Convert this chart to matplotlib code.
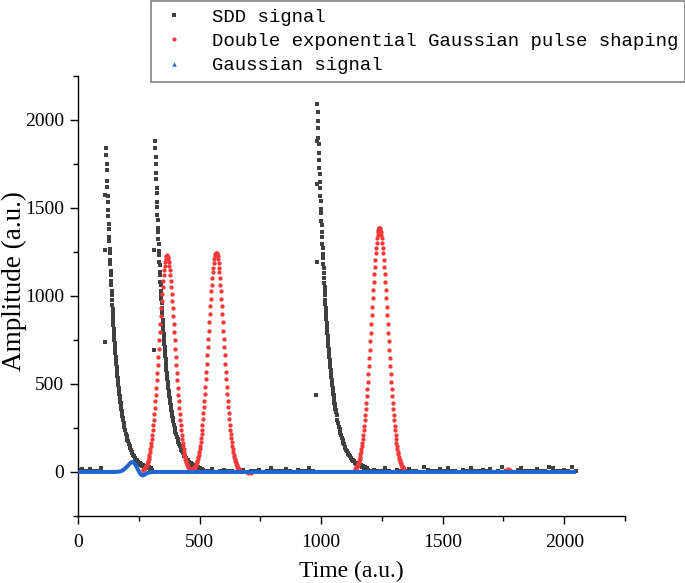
import numpy as np
import matplotlib
matplotlib.use("Agg")
import matplotlib.pyplot as plt
from matplotlib.lines import Line2D
from matplotlib.ticker import MultipleLocator
from matplotlib.font_manager import FontProperties

# ---------------- data ----------------
# SDD signal: three exponential pulses, sampled once per time unit near the peak
sdd_p1_time = np.concatenate([np.arange(116, 186), np.arange(188, 261, 3), np.arange(264, 305, 4)])
sdd_p1_amp = [1840, 1800, 1745, 1712, 1650, 1618, 1565, 1534, 1486, 1455,
              1410, 1380, 1336, 1309, 1268, 1242, 1203, 1178, 1140, 1117,
              1082, 1060, 1027, 1006, 975,
              950, 925, 903, 879, 857, 836, 813, 791, 768, 750,
              731, 714, 694, 676, 655, 640, 624, 610, 593, 578,
              560, 547, 534, 521, 506, 493, 478, 467, 456, 445,
              432, 420, 408, 399, 389, 380, 369, 358, 348, 340,
              332, 325, 315, 306, 297,
              278, 253, 238, 216, 203, 184, 174, 157, 149, 134,
              127, 114, 108, 97, 93, 82, 79, 70, 68, 59, 58, 50, 49, 42, 44,
              36, 38, 30, 33, 25, 28, 20, 26, 15, 22, 12]

sdd_p2_time = np.concatenate([np.arange(317, 391), np.arange(392, 471, 3), np.arange(474, 515, 4)])
sdd_p2_amp = [1880, 1838, 1785, 1750, 1697, 1662, 1612, 1582, 1533, 1505,
              1458, 1432, 1387, 1362, 1320, 1296, 1255, 1233, 1193, 1173,
              1135, 1116, 1080, 1062, 1028,
              1003, 980, 957, 932, 910, 888, 865, 845, 826, 804,
              785, 764, 746, 727, 711, 691, 675, 656, 641, 625,
              612, 594, 580, 564, 551, 537, 527, 510, 498, 485,
              474, 462, 454, 440, 429, 417, 408, 398, 391, 378,
              369, 359, 351, 342, 337, 325, 317, 309, 302,
              290, 266, 250, 228, 215, 196, 186, 170, 160, 146,
              138, 126, 119, 108, 103, 92, 89, 79, 77, 68,
              66, 59, 57, 50, 49, 43, 42,
              35, 38, 30, 32, 24, 27, 18, 22, 14, 17, 10]

sdd_p3_time = np.concatenate([np.arange(985, 1061), np.arange(1061, 1149, 3), np.arange(1152, 1193, 4)])
sdd_p3_amp = [2090, 2045, 1990, 1950, 1898, 1860, 1808, 1773, 1725, 1691,
              1645, 1613, 1568, 1538, 1495, 1467, 1425, 1399, 1359, 1334,
              1296, 1272, 1236, 1213, 1179, 1155,
              1128, 1101, 1074, 1050, 1026, 1003, 978, 955, 929, 910,
              889, 870, 848, 828, 805, 790, 771, 754, 735, 717,
              697, 684, 668, 653, 636, 620, 604, 593, 580, 568,
              553, 539, 524, 514, 503, 492, 479, 466, 454, 445,
              436, 427, 415, 404, 393, 385, 378, 371, 360, 350,
              340, 322, 295, 279, 255, 242, 221, 210, 192, 182,
              166, 158, 144, 138, 125, 120, 108, 104, 94, 91,
              81, 79, 70, 69, 61, 60, 53, 52, 46, 46,
              40, 42, 34, 37, 28, 31, 22, 26, 16, 20, 12]

sdd_rise_time = [111, 112, 113, 313, 314, 981, 982, 983, 984]
sdd_rise_amp = [738, 1258, 1570, 690, 1258, 435, 1192, 1636, 1880]

sdd_base_time = np.concatenate([np.arange(0, 97, 16), np.arange(520, 969, 16), np.arange(1200, 2049, 16)])
sdd_base_amp = [12, 18, 6, 14, 4, 8, 20,
                8, 4, 14, 2, 6, 10, 3, 8, 0, 5, 12, 2, 7, 4, 10, 2, 6, 22, 4, 8,
                3, 18, 5, 2, 9, 4, 6, 20, 3,
                6, 12, 3, 8, 22, 5, 2, 10, 4, 7, 15, 3, 8, 2, 26, 9, 4, 6, 18, 3,
                20, 5, 8, 2, 12, 4, 24, 6, 3, 9, 5, 14, 2, 8, 28, 4, 6, 2, 10, 22,
                5, 3, 8, 18, 4, 7, 26, 25, 6, 3, 9, 4, 27, 6]

# Double exponential Gaussian pulse shaping output
shp_p1_time = np.arange(266, 467, 2)
shp_p1_amp = [9, 11, 14, 16, 20, 24, 28, 33, 39, 46, 54, 63, 73, 85, 98, 112, 129, 146, 166, 188,
              212, 237, 266, 296, 328, 363, 400, 438, 478, 520, 563, 608, 653, 700, 747, 792, 839,
              884, 929, 972, 1012, 1050, 1085, 1118, 1146, 1171, 1192, 1209, 1220, 1228, 1230,
              1228, 1220, 1209, 1192, 1171, 1146, 1118, 1085, 1050, 1012, 972, 929, 884, 839, 792,
              747, 700, 653, 608, 563, 520, 478, 438, 400, 363, 328, 296, 266, 237, 212, 188, 166,
              146, 129, 112, 98, 85, 73, 63, 54, 46, 39, 33, 28, 24, 20, 16, 14, 11, 9]
shp_p2_time = np.arange(468, 669, 2)
shp_p2_amp = [9, 11, 14, 16, 20, 24, 28, 34, 40, 47, 55, 64, 74, 86, 99, 114, 131, 148, 168, 190,
              214, 240, 269, 300, 332, 367, 405, 443, 484, 527, 570, 615, 661, 708, 756, 802, 849,
              895, 940, 984, 1025, 1063, 1098, 1132, 1160, 1185, 1206, 1224, 1235, 1243, 1245,
              1243, 1235, 1224, 1206, 1185, 1160, 1132, 1098, 1063, 1025, 984, 940, 895, 849, 802,
              756, 708, 661, 615, 570, 527, 484, 443, 405, 367, 332, 300, 269, 240, 214, 190, 168,
              148, 131, 114, 99, 86, 74, 64, 55, 47, 40, 34, 28, 24, 20, 16, 14, 11, 9]
shp_p3_time = np.arange(1140, 1341, 2)
shp_p3_amp = [18, 22, 26, 30, 36, 42, 49, 57, 66, 76, 87, 100, 114, 130, 147, 166, 187, 211, 236,
              263, 292, 323, 357, 392, 430, 470, 511, 555, 600, 646, 693, 742, 791, 840, 889, 938,
              987, 1034, 1080, 1123, 1165, 1204, 1240, 1272, 1301, 1326, 1347, 1364, 1375, 1383,
              1385,
              1383, 1375, 1364, 1347, 1326, 1301, 1272, 1240, 1204, 1165, 1123, 1080, 1034, 987,
              938, 889, 840, 791, 742, 693, 646, 600, 555, 511, 470, 430, 392, 357, 323, 292, 263,
              236, 211, 187, 166, 147, 130, 114, 100, 87, 76, 66, 57, 49, 42, 36, 30, 26, 22, 18]
shp_base_time = [700, 712, 1760, 1768, 1776]
shp_base_amp = [-8, -8, 12, 14, 10]

# Gaussian signal
gau_time = [0, 150, 170, 180, 190, 200, 210, 218, 225, 232, 240, 247, 254, 260, 266, 272,
            280, 290, 300, 320, 2048]
gau_amp = [0, 0, 2, 6, 15, 28, 43, 54, 57, 50, 32, 12, -6, -16, -20, -17, -10, -4, -1, 0, 0]

legend_labels = ["SDD signal", "Double exponential Gaussian pulse shaping", "Gaussian signal"]
x_label = "Time (a.u.)"
y_label = "Amplitude (a.u.)"

# ---------------- styling ----------------
GRAY = "#404040"
RED = "#f23a3a"
BLUE = "#1f66d1"
serif = "Liberation Serif"

W, H = 685, 583
fig = plt.figure(figsize=(W / 100, H / 100), dpi=100)
ax = fig.add_axes([78 / W, 1 - 516 / H, (625 - 78) / W, (516 - 75.5) / H])

sdd_kw = dict(ls="none", marker="s", ms=2.7, mew=0, color=GRAY, zorder=2)
for t, v in [(sdd_base_time, sdd_base_amp), (sdd_p1_time, sdd_p1_amp), (sdd_p2_time, sdd_p2_amp),
             (sdd_p3_time, sdd_p3_amp), (sdd_rise_time, sdd_rise_amp)]:
    ax.plot(t, v, **sdd_kw)

shp_kw = dict(ls="none", marker="o", ms=3.1, mew=0, color=RED, zorder=3)
for t, v in [(shp_base_time, shp_base_amp), (shp_p1_time, shp_p1_amp), (shp_p2_time, shp_p2_amp),
             (shp_p3_time, shp_p3_amp)]:
    ax.plot(t, v, **shp_kw)

ax.plot(gau_time, gau_amp, color=BLUE, lw=2.9, solid_capstyle="butt", zorder=4)

ax.set_xlim(0, 2250)
ax.set_ylim(-250, 2250)
ax.xaxis.set_major_locator(MultipleLocator(500))
ax.xaxis.set_minor_locator(MultipleLocator(250))
ax.yaxis.set_major_locator(MultipleLocator(500))
ax.yaxis.set_minor_locator(MultipleLocator(250))
for s in ["top", "right"]:
    ax.spines[s].set_visible(False)
for s in ["left", "bottom"]:
    ax.spines[s].set_linewidth(1.0)
ax.tick_params(which="major", direction="out", length=6, width=1.0, pad=4)
ax.tick_params(which="minor", direction="out", length=3.5, width=1.0)
ax.tick_params(axis="x", which="major", pad=7)
for lab in ax.get_xticklabels() + ax.get_yticklabels():
    lab.set_fontfamily(serif)
    lab.set_fontsize(14)

ax.set_xlabel(x_label, fontfamily=serif, fontsize=17)
ax.set_ylabel(y_label, fontfamily=serif, fontsize=19.5)
ax.xaxis.set_label_coords(0.5, -(561 - 516) / (516 - 75.5))
ax.yaxis.set_label_coords((27 - 78) / (625 - 78), (516 - 281) / (516 - 75.5))

handles = [Line2D([], [], ls="none", marker="s", ms=3, mew=0, color=GRAY),
           Line2D([], [], ls="none", marker="o", ms=3, mew=0, color=RED),
           Line2D([], [], ls="none", marker="^", ms=3.2, mew=0, color=BLUE)]
leg = fig.legend(handles, legend_labels, loc="upper left",
                 bbox_to_anchor=(151 / W, 1 - 1 / H), bbox_transform=fig.transFigure,
                 prop=FontProperties(family="Liberation Mono", size=13.7),
                 frameon=True, fancybox=False, edgecolor="#808080", framealpha=1,
                 borderpad=0.4, handlelength=1.6, handletextpad=1.18,
                 labelspacing=0.36, borderaxespad=0)
leg.get_frame().set_linewidth(1.2)

fig.savefig("out.png", dpi=100)
